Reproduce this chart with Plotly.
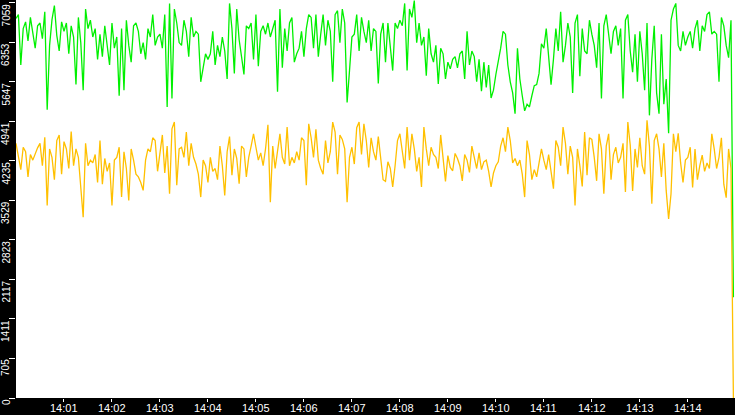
import pandas as pd
import plotly.graph_objects as go

# samples every 3 s from 14:00:00
g0 = [6780, 6850, 5950, 6600, 6720, 6380, 6800, 6550, 6250, 6650, 6700, 6420, 6900, 5150, 6300, 6760, 7010, 6480, 6200, 6720]
g1 = [6550, 6700, 6150, 6650, 6450, 5600, 6800, 6350, 5500, 6950, 6600, 6750, 6450, 6600, 6050, 6500, 6100, 6650, 6250, 5950]
g2 = [6700, 6250, 6450, 5400, 6600, 5500, 6750, 6300, 6000, 6650, 6700, 6550, 6150, 6350, 6050, 6600, 6450, 6850, 6300, 6450]
g3 = [6500, 6250, 6850, 5200, 7050, 5350, 6950, 6700, 6350, 6300, 6750, 6550, 6100, 6800, 6450, 6550, 6500, 5650, 5900, 6150]
g4 = [6050, 6150, 6550, 5950, 6300, 6100, 6450, 6200, 5700, 7050, 6600, 5800, 6950, 6400, 6100, 5780, 6650, 6600, 6700, 6050]
g5 = [6850, 5930, 6550, 6650, 6500, 6700, 6450, 6600, 6750, 5470, 6950, 5900, 6600, 6200, 6700, 6800, 6000, 6150, 6250, 6550]
g6 = [6100, 6600, 6850, 6800, 6250, 6850, 6100, 6500, 6850, 6300, 6750, 6550, 5650, 6850, 6920, 6350, 6950, 6700, 5280, 5850]
g7 = [6450, 6500, 6850, 6200, 6800, 6550, 6350, 6750, 6200, 6600, 6550, 5620, 6500, 6700, 6000, 6700, 6250, 5850, 6700, 6600]
g8 = [6750, 6650, 7050, 5850, 6950, 6800, 7100, 6350, 6700, 6300, 6450, 5760, 6600, 6150, 6000, 6300, 5610, 6250, 6150, 5700]
g9 = [6000, 5880, 6050, 6100, 5900, 6150, 6200, 5700, 6550, 5950, 6200, 6100, 5650, 6050, 5480, 6000, 5550, 5950, 5360, 5500]
g10 = [5780, 6000, 6250, 6550, 6500, 5950, 5650, 5450, 5080, 6250, 5700, 5400, 5130, 5250, 5200, 5400, 5580, 5600, 5800, 6330]
g11 = [6250, 6600, 6150, 5600, 6050, 6600, 6200, 6900, 6000, 6300, 6700, 6450, 5450, 6700, 6850, 5750, 6600, 6200, 6150, 6750]
g12 = [6500, 6300, 5900, 6700, 5350, 6650, 6850, 6450, 6150, 6550, 6650, 6300, 6600, 5350, 6750, 6850, 6200, 5820, 6500, 5650]
g13 = [6550, 6150, 5500, 6700, 5050, 6050, 6650, 5450, 5080, 6500, 5250, 5700, 4730, 6750, 6950, 7050, 6300, 6200, 6550, 6300]
g14 = [6450, 6550, 6250, 6600, 6750, 6200, 6650, 6550, 6850, 6900, 6500, 6550, 6500, 5650, 6800, 6650, 6300, 6080, 6750, 1800]

y0 = [4550, 4300, 4080, 4480, 4400, 3950, 4350, 4250, 4380, 4470, 4550, 4150, 4660, 3440, 4450, 4300, 3900, 4600, 4700, 4000]
y1 = [4580, 4450, 4100, 4760, 4150, 4450, 4300, 3700, 3230, 4550, 4150, 4250, 4200, 4350, 3850, 4600, 3820, 4280, 4050, 4200]
y2 = [3440, 4250, 4300, 4480, 3590, 4400, 4100, 3530, 4450, 4250, 4000, 3950, 3850, 3710, 4250, 4450, 4400, 4650, 4600, 4050]
y3 = [4380, 4700, 4020, 4500, 3650, 4810, 4930, 3800, 4450, 4480, 4300, 4750, 4150, 4550, 4300, 4180, 4000, 3590, 4250, 4150]
y4 = [3850, 4300, 4050, 4100, 3900, 4500, 4150, 3620, 4400, 4670, 3980, 4450, 4280, 3830, 4500, 4450, 3950, 4300, 4500, 4720]
y5 = [4480, 4250, 4380, 4150, 4450, 4880, 3500, 4500, 4100, 4450, 4720, 4300, 4180, 4840, 4150, 4300, 4200, 4400, 4250, 4650]
y6 = [4600, 3800, 4900, 4650, 4300, 4800, 4250, 4100, 4000, 4600, 4200, 4400, 4930, 4750, 4000, 4700, 4620, 4450, 3500, 4300]
y7 = [4480, 4180, 4830, 4930, 4350, 4900, 4600, 4120, 4650, 4400, 4250, 4670, 4300, 3900, 3870, 4220, 4100, 3770, 4150, 4600]
y8 = [4720, 4400, 4100, 4840, 4250, 4720, 4450, 4050, 4300, 3770, 4840, 4450, 4150, 4480, 4350, 4300, 4100, 4700, 4320, 3870]
y9 = [4330, 4120, 4060, 4370, 4280, 4150, 3880, 4350, 4250, 4030, 4500, 4300, 4100, 4380, 4080, 4220, 4250, 4050, 3770, 4020]
y10 = [4150, 4220, 4500, 4650, 4400, 4840, 4600, 4200, 4280, 4150, 4250, 4000, 3590, 4600, 4350, 3900, 4080, 3950, 4180, 4450]
y11 = [4250, 4080, 4350, 4050, 3740, 4600, 4480, 4150, 4840, 4550, 4000, 4500, 4300, 3440, 4450, 4150, 3780, 4750, 3980, 4650]
y12 = [4620, 4300, 3880, 4720, 4450, 3650, 4500, 4720, 3900, 4350, 4480, 4200, 4300, 4550, 3680, 4930, 4520, 3700, 4450, 4120]
y13 = [4650, 4150, 4000, 4960, 4500, 3470, 4600, 4720, 4450, 3950, 4550, 3700, 3200, 3650, 4720, 4400, 4730, 4200, 3850, 4250]
y14 = [4300, 4480, 3760, 4450, 3900, 4150, 4340, 4050, 4200, 4100, 4720, 4450, 4100, 4300, 4650, 3820, 3580, 4450, 4100, 0]

green = g0 + g1 + g2 + g3 + g4 + g5 + g6 + g7 + g8 + g9 + g10 + g11 + g12 + g13 + g14
yellow = y0 + y1 + y2 + y3 + y4 + y5 + y6 + y7 + y8 + y9 + y10 + y11 + y12 + y13 + y14
times = pd.date_range("2024-01-01 14:00:00", periods=len(green), freq="3s")

y_ticks = [0, 705.9, 1411.8, 2117.7, 2823.6, 3529.5, 4235.4, 4941.3, 5647.2, 6353.1, 7059]
y_labels = ["0", "705", "1411", "2117", "2823", "3529", "4235", "4941", "5647", "6353", "7059"]
x_ticks = ["2024-01-01 14:%02d:00" % m for m in range(1, 15)]
x_labels = ["14:%02d" % m for m in range(1, 15)]

fig = go.Figure()
fig.add_trace(go.Scatter(x=times, y=green, mode="lines", line=dict(color="#00f000", width=1.3)))
fig.add_trace(go.Scatter(x=times, y=yellow, mode="lines", line=dict(color="#ffc000", width=1.3)))

# rotated value labels sit in the black strip, hanging below each tick
for v, t in zip(y_ticks, y_labels):
    fig.add_annotation(x=-0.0139, xref="paper", y=v, yref="y", text=t, textangle=-90,
                       showarrow=False, xanchor="center", yanchor="top", borderpad=0,
                       font=dict(family="Liberation Sans", size=10, color="white"))

# time labels pinned to the bottom edge of the page
for v, t in zip(x_ticks, x_labels):
    fig.add_annotation(x=v, xref="x", y=-17 / 398, yref="paper", text=t,
                       showarrow=False, xanchor="center", yanchor="bottom", borderpad=0,
                       font=dict(family="Liberation Sans", size=11, color="white"))

fig.update_layout(
    template="none",
    width=735, height=415,
    margin=dict(l=16, r=0, t=0, b=17, pad=0, autoexpand=False),
    paper_bgcolor="black", plot_bgcolor="white",
    showlegend=False,
)
fig.update_xaxes(range=["2024-01-01 14:00:00", "2024-01-01 14:14:59"],
                 tickvals=x_ticks, showticklabels=False, automargin=False,
                 ticks="outside", ticklen=3, tickcolor="white", tickwidth=1,
                 showgrid=False, zeroline=False, showline=False)
fig.update_yaxes(range=[0, 7111], tickvals=y_ticks, showticklabels=False, automargin=False,
                 ticks="outside", ticklen=6, tickcolor="white", tickwidth=1,
                 showgrid=False, zeroline=False, showline=False)

# page body default margin would shift the 735x415 figure
fig.write_html("out.html", config={"displayModeBar": False},
               post_script="document.body.style.margin='0';")
